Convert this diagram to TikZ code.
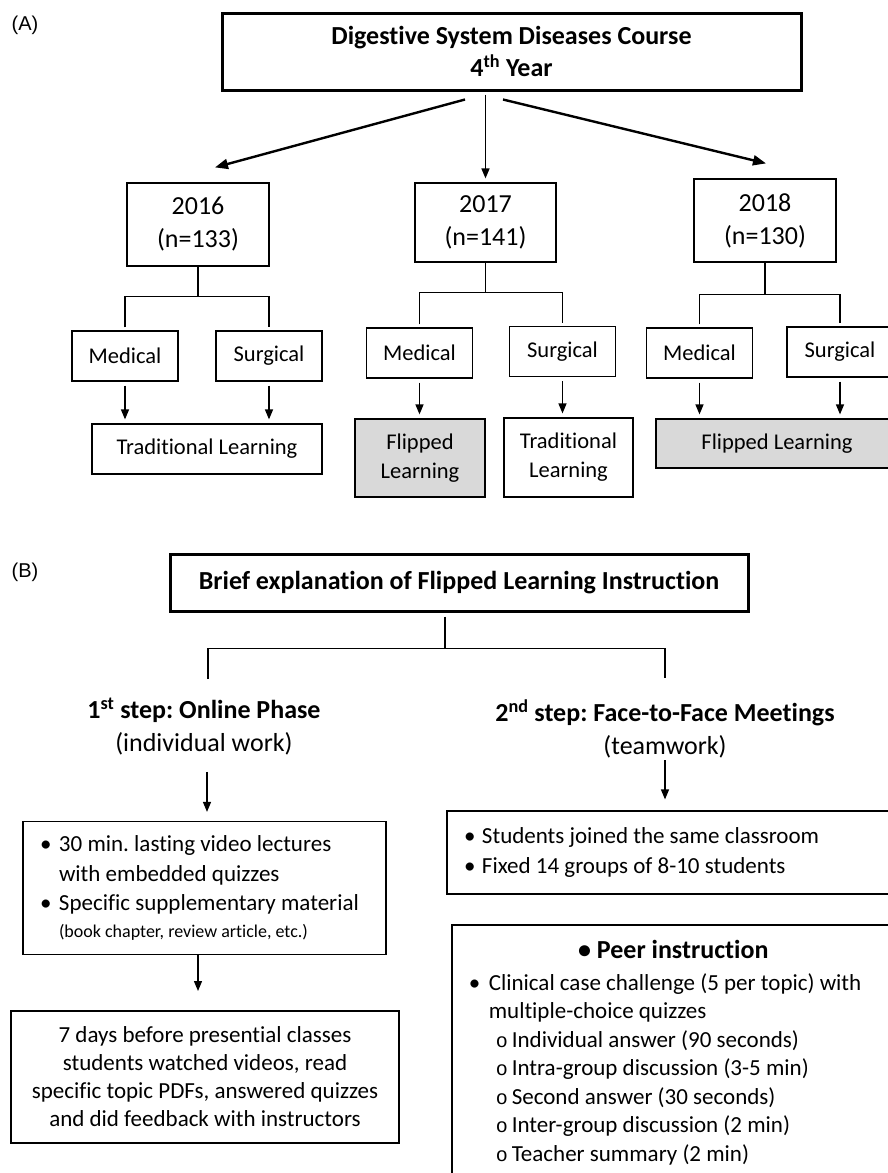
\documentclass[tikz,border=0pt]{standalone}
\usepackage{fontspec}
\setmainfont{Carlito}[Ligatures=NoCommon]
\newfontfamily\panelfont{Liberation Sans}
\newfontfamily\subfont{Liberation Mono}
\usetikzlibrary{arrows.meta,calc}
\frenchspacing

\begin{document}
\begin{tikzpicture}[x=1pt,y=-1pt,
    box/.style={draw,line width=1.2pt,inner sep=0pt,align=center,font=\fontsize{22.5}{29}\selectfont},
    yearbox/.style={box,minimum width=142pt,font=\fontsize{26}{33}\selectfont},
    headbox/.style={draw,line width=3pt,inner sep=0pt,align=center,font=\bfseries\fontsize{26}{32}\selectfont},
    flipbox/.style={box,fill=black!15},
    listbox/.style={draw,line width=1.2pt,align=flush left,inner xsep=17pt,font=\fontsize{23}{29.5}\selectfont},
    steptext/.style={align=center,inner sep=0pt,font=\fontsize{26}{33}\selectfont},
    link/.style={line width=1.5pt},
    arr/.style={-{Triangle[length=10pt,width=8pt]},line width=1.3pt},
    bigarr/.style={-{Triangle[length=13pt,width=10pt]},line width=2.4pt},
    panel/.style={font=\panelfont\fontsize{20}{24}\selectfont}]

    \path [use as bounding box,fill=white] (0,0) rectangle (887,1173);

    % Part A: course and cohorts
    \node [panel] (pa) at (25,25) {(A)};
    \node [headbox,minimum width=579pt,minimum height=77pt] (course) at (511.5,51.5)
        {Digestive System Diseases Course\\4\textsuperscript{th} Year};

    \node [yearbox,minimum height=83pt] (y16) at (198,224.5) {2016\\(n=133)};
    \node [yearbox,minimum width=141pt,minimum height=79pt] (y17) at (485.5,222.5) {2017\\(n=141)};
    \node [yearbox,minimum height=83pt] (y18) at (765,220.5) {2018\\(n=130)};

    \draw [bigarr] ($(course.south)+(-46.5,8)$) -- ($(y16.north)+(17,-15)$);
    \draw [arr,line width=1.6pt] ($(course.south -| y17.north)+(0,3)$) -- ($(y17.north)+(0,-4)$);
    \draw [bigarr] ($(course.south)+(-8.5,8)$) -- ($(y18.north)+(1,-15)$);

    % Medical / Surgical groups
    \foreach \n/\t/\x/\y in {m16/Medical/125/356, s16/Surgical/269/356,
        m17/Medical/419.5/353, s17/Surgical/562.5/351.5,
        m18/Medical/699.5/353, s18/Surgical/840/352}
        \node [box,minimum width=106pt,minimum height=50pt] (\n) at (\x,\y) {\t};

    \foreach \y/\m/\s/\d in {y16/m16/s16/30, y17/m17/s17/30, y18/m18/s18/32} {
        \draw [link] (\y.south) -- ++(0,\d) coordinate (b\y);
        \draw [link] ($(\m.north)+(0,-3)$) |- (b\y) -| ($(\s.north)+(0,-3)$);
    }

    % Learning method
    \node [box,minimum width=230pt,minimum height=50pt] (t16) at (207,449) {Traditional Learning};
    \node [flipbox,minimum width=130pt,minimum height=78pt] (f17) at (420,458) {Flipped\\Learning};
    \node [box,minimum width=129pt,minimum height=79pt] (t17) at (568.5,457.5) {Traditional\\Learning};
    \node [flipbox,minimum width=242pt,minimum height=49pt] (f18) at (777,443.5) {Flipped Learning};

    \foreach \a/\b in {m16/t16, s16/t16, m17/f17, s17/t17, m18/f18, s18/f18}
        \draw [arr] ($(\a.south)+(0,4)$) -- ($(\a.south |- \b.north)+(0,-4)$);

    % Part B: flipped learning instruction
    \node [panel] (pb) at (25,572) {(B)};
    \node [headbox,minimum width=578pt,minimum height=57pt] (brief) at (459,582.5)
        {Brief explanation of Flipped Learning Instruction};

    \node [steptext] (step1) at (204,726.5)
        {{\bfseries 1\textsuperscript{st} step: Online Phase}\\(individual work)};
    \node [steptext] (step2) at (665,729)
        {{\bfseries 2\textsuperscript{nd} step: Face-to-Face Meetings}\\(teamwork)};

    \coordinate (s1top) at (208,679);
    \coordinate (s2top) at (665,678);
    \draw [link] ($(brief.south)+(-14,4)$) -- ++(0,32) coordinate (bb);
    \draw [link] (s1top) |- (bb) -| (s2top);

    % Online phase
    \node [listbox,text width=329pt,minimum height=133pt] (a1) at (204.5,888)
        {\makebox[19pt][l]{•}30 min. lasting video lectures\\
         \hspace*{19pt}with embedded quizzes\\
         \makebox[19pt][l]{•}Specific supplementary material\\[-3pt]
         \hspace*{19pt}{\fontsize{18}{22}\selectfont(book chapter, review article, etc.)}};
    \node [draw,line width=2pt,inner sep=0pt,align=center,minimum width=388pt,minimum height=132pt,
        font=\fontsize{23}{28}\selectfont] (a2) at (205,1077)
        {7 days before presential classes\\students watched videos, read\\
         specific topic PDFs, answered quizzes\\and did feedback with instructors};

    \draw [arr] ($(a1.north)+(2.5,-49)$) -- ($(a1.north)+(2.5,-9)$);
    \draw [arr] ($(a1.south)+(-6.5,0)$) -- ($(a2.north)+(-7,-19)$);

    % Face-to-face meetings
    \node [listbox,text width=412pt,minimum height=83pt,font=\fontsize{23}{30}\selectfont] (b1) at (670,852.5)
        {\makebox[18pt][l]{•}Students joined the same classroom\\
         \makebox[18pt][l]{•}Fixed 14 groups of 8-10 students};
    \node [listbox,anchor=north west,line width=1.6pt,text width=409pt,inner ysep=15pt,
        font=\fontsize{23}{28.5}\selectfont] (b2) at (451,924)
        {\makebox[409pt][c]{\fontsize{26}{32}\selectfont\bfseries • Peer instruction}\\[3.5pt]
         \makebox[20pt][l]{•}Clinical case challenge (5 per topic) with\\
         \hspace*{20pt}multiple-choice quizzes\\
         \hspace*{27pt}\makebox[16pt][l]{\subfont\fontsize{20}{24}\selectfont o}Individual answer (90 seconds)\\
         \hspace*{27pt}\makebox[16pt][l]{\subfont\fontsize{20}{24}\selectfont o}Intra-group discussion (3-5 min)\\
         \hspace*{27pt}\makebox[16pt][l]{\subfont\fontsize{20}{24}\selectfont o}Second answer (30 seconds)\\
         \hspace*{27pt}\makebox[16pt][l]{\subfont\fontsize{20}{24}\selectfont o}Inter-group discussion (2 min)\\
         \hspace*{27pt}\makebox[16pt][l]{\subfont\fontsize{20}{24}\selectfont o}Teacher summary (2 min)\\[10pt]
         \mbox{}};

    \draw [arr] ($(b1.north -| step2.south)+(0,-50)$) -- ($(b1.north -| step2.south)+(0,-11)$);

\end{tikzpicture}
\end{document}
